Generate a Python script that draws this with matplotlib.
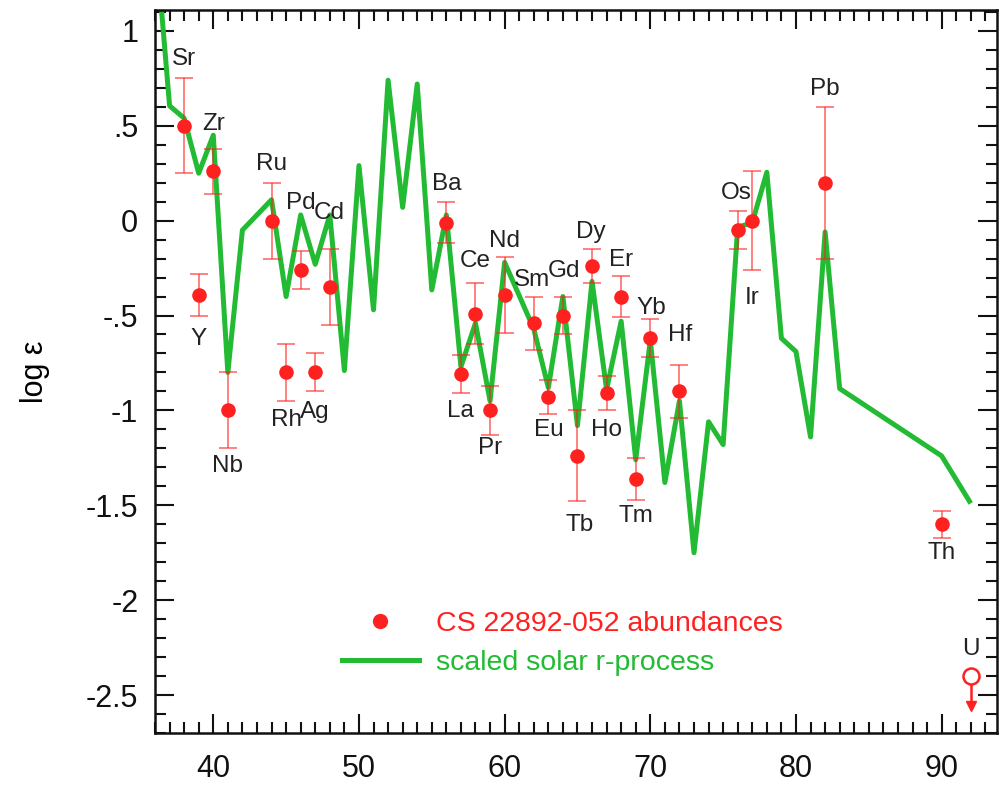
import matplotlib
matplotlib.use('Agg')
import matplotlib.pyplot as plt
from matplotlib.ticker import FixedLocator, MultipleLocator
from matplotlib.lines import Line2D

plt.rcParams['font.family'] = ['Liberation Sans', 'DejaVu Sans']

# ---- observed abundances (CS 22892-052) ----
elements = ['Sr', 'Y', 'Zr', 'Nb', 'Ru', 'Rh', 'Pd', 'Ag', 'Cd', 'Ba', 'La', 'Ce',
            'Pr', 'Nd', 'Sm', 'Eu', 'Gd', 'Tb', 'Dy', 'Ho', 'Er', 'Tm', 'Yb', 'Hf',
            'Os', 'Ir', 'Pb', 'Th']
obs_z = [38, 39, 40, 41, 44, 45, 46, 47, 48, 56, 57, 58,
         59, 60, 62, 63, 64, 65, 66, 67, 68, 69, 70, 72,
         76, 77, 82, 90]
obs_val = [0.50, -0.39, 0.26, -1.00, 0.00, -0.80, -0.26, -0.80, -0.35, -0.01, -0.81, -0.49,
           -1.00, -0.39, -0.54, -0.93, -0.50, -1.24, -0.24, -0.91, -0.40, -1.36, -0.62, -0.90,
           -0.05, 0.00, 0.20, -1.60]
obs_err = [0.25, 0.11, 0.12, 0.20, 0.20, 0.15, 0.10, 0.10, 0.20, 0.11, 0.10, 0.16,
           0.13, 0.20, 0.14, 0.09, 0.10, 0.24, 0.09, 0.09, 0.11, 0.11, 0.10, 0.14,
           0.10, 0.26, 0.40, 0.07]

# upper limit for U
u_label = 'U'
u_z = 92
u_val = -2.40
u_arrow = 0.16

# ---- scaled solar r-process curve ----
solar_z = [36, 37, 38, 39, 40, 41, 42, 44, 45, 46, 47, 48, 49, 50, 51, 52, 53, 54, 55,
           56, 57, 58, 59, 60, 62, 63, 64, 65, 66, 67, 68, 69, 70, 71, 72, 73, 74, 75,
           76, 77, 78, 79, 80, 81, 82, 83, 90, 92]
solar_val = [1.52, 0.605, 0.54, 0.25, 0.45, -0.80, -0.05, 0.11, -0.40, 0.03, -0.23, 0.03,
             -0.79, 0.29, -0.47, 0.74, 0.07, 0.72, -0.365,
             0.03, -0.77, -0.54, -0.95, -0.22, -0.57, -0.88, -0.40, -1.08, -0.32, -0.89,
             -0.53, -1.26, -0.63, -1.38, -0.95, -1.75, -1.06, -1.18,
             -0.035, -0.01, 0.255, -0.62, -0.69, -1.14, -0.06, -0.885, -1.24, -1.49]

y_ticks = [1, 0.5, 0, -0.5, -1, -1.5, -2, -2.5]
y_ticklabels = ['1', '.5', '0', '-.5', '-1', '-1.5', '-2', '-2.5']
x_ticks = [40, 50, 60, 70, 80, 90]

legend_labels = ['CS 22892-052 abundances', 'scaled solar r-process']

# label offsets (pixels, dx, dy) -- layout only
label_offsets = {
    'Sr': (0, 67), 'Y': (0, -44), 'Zr': (0, 47), 'Nb': (0, -56), 'Ru': (0, 57),
    'Rh': (0, -48), 'Pd': (0, 67), 'Ag': (0, -40), 'Cd': (-1, 74), 'Ba': (0, 39),
    'La': (0, -37), 'Ce': (0, 53), 'Pr': (0, -38), 'Nd': (0, 54), 'Sm': (-2, 43),
    'Eu': (0, -33), 'Gd': (1, 45), 'Tb': (2, -69), 'Dy': (-1, 34), 'Ho': (0, -37),
    'Er': (0, 37), 'Tm': (0, -37), 'Yb': (1, 30), 'Hf': (1, 56), 'Os': (-1, 37),
    'Ir': (0, -77), 'Pb': (0, 94), 'Th': (0, -29), 'U': (0, 27),
}

RED = '#FF2020'
GREEN = '#22BB33'

fig = plt.figure(figsize=(10.08, 7.86), dpi=100)
ax = fig.add_axes([155 / 1008, 53 / 786, 842 / 1008, 723 / 786])

ax.plot(solar_z, solar_val, color=GREEN, lw=3.6, zorder=2,
        solid_capstyle='butt')

ax.errorbar(obs_z, obs_val, yerr=obs_err, fmt='none', ecolor=RED, alpha=0.65,
            elinewidth=1.2, capsize=6.5, capthick=1.2, zorder=3)
ax.plot(obs_z, obs_val, 'o', color=RED, markersize=10.5, mec='none', zorder=4)

# U upper limit
ax.errorbar([u_z], [u_val], yerr=[[u_arrow], [0]],
            fmt='none', ecolor=RED, elinewidth=1.8, zorder=3)
ax.plot([u_z], [u_val - u_arrow], marker='v', color=RED, markersize=7, zorder=4)
ax.plot([u_z], [u_val], 'o', mfc='white', mec=RED, mew=1.8, markersize=11.5, zorder=4)

for el, z, v in zip(elements + [u_label], obs_z + [u_z], obs_val + [u_val]):
    dx, dy = label_offsets[el]
    ax.annotate(el, (z, v), xytext=(dx, dy), textcoords='offset pixels',
                ha='center', va='center', fontsize=17.5, color='#222222', zorder=5)

ax.set_xlim(36, 93.8)
ax.set_ylim(-2.7, 1.11)
ax.xaxis.set_major_locator(FixedLocator(x_ticks))
ax.xaxis.set_minor_locator(MultipleLocator(1))
ax.yaxis.set_major_locator(FixedLocator(y_ticks))
ax.set_yticklabels(y_ticklabels)
ax.yaxis.set_minor_locator(MultipleLocator(0.1))
ax.tick_params(which='both', direction='in', top=True, right=True, width=1.5,
               colors='#111111')
ax.tick_params(which='major', length=14, labelsize=22)
ax.tick_params(which='minor', length=8)
ax.tick_params(axis='y', pad=12)
ax.tick_params(axis='x', pad=15)
for sp in ax.spines.values():
    sp.set_linewidth(1.8)
    sp.set_color('#111111')

ax.set_ylabel('log ε', fontsize=22)
ax.yaxis.set_label_coords(-0.125, 0.5)

handles = [Line2D([], [], marker='o', color=RED, linestyle='none', markersize=11, mec='none'),
           Line2D([], [], color=GREEN, lw=3.6)]
leg = ax.legend(handles, legend_labels, loc='center left', bbox_to_anchor=(0.222, 0.124),
                frameon=False, fontsize=20.5, handlelength=2.7, handletextpad=0.6,
                borderpad=0, borderaxespad=0, labelspacing=0.45,
                labelcolor=[RED, GREEN])

fig.savefig('out.png', dpi=100)
